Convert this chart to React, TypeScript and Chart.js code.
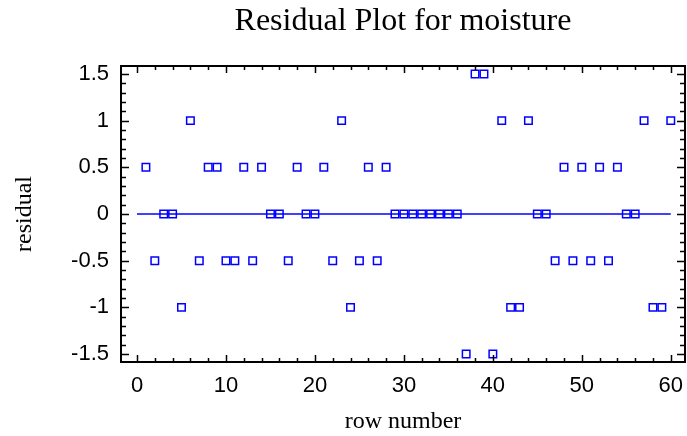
import React, { useEffect, useRef } from "react";
import { Chart, registerables } from "chart.js";

Chart.register(...registerables);

const rowNumbers: number[] = Array.from({ length: 60 }, (_, i) => i + 1);
const residuals: number[] = [
  0.5, -0.5, 0, 0, -1, 1, -0.5, 0.5, 0.5, -0.5,
  -0.5, 0.5, -0.5, 0.5, 0, 0, -0.5, 0.5, 0, 0,
  0.5, -0.5, 1, -1, -0.5, 0.5, -0.5, 0.5, 0, 0,
  0, 0, 0, 0, 0, 0, -1.5, 1.5, 1.5, -1.5,
  1, -1, -1, 1, 0, 0, -0.5, 0.5, -0.5, 0.5,
  -0.5, 0.5, -0.5, 0.5, 0, 0, 1, -1, -1, 1,
];
const zeroLineX: number[] = [0, 60];
const zeroLineY: number[] = [0, 0];
const xTickValues: number[] = [0, 10, 20, 30, 40, 50, 60];
const yTickValues: number[] = [-1.5, -1, -0.5, 0, 0.5, 1, 1.5];
const xMinorStep = 2;
const yMinorStep = 0.1;

const titleText = "Residual Plot for moisture";
const xTitle = "row number";
const yTitle = "residual";

const serif = "'Liberation Serif', 'Times New Roman', serif";
const sans = "'Liberation Sans', Arial, sans-serif";

const framePlugin = {
  id: "frame",
  afterDraw(chart: any) {
    const { ctx, chartArea } = chart;
    const xs = chart.scales.x;
    const ys = chart.scales.y;
    const { left, right, top, bottom } = chartArea;
    ctx.save();
    ctx.strokeStyle = "#000";
    ctx.lineWidth = 2;
    ctx.strokeRect(left, top, right - left, bottom - top);
    ctx.lineWidth = 1.5;
    ctx.beginPath();
    const xStart = Math.ceil(xs.min / xMinorStep) * xMinorStep;
    for (let v = xStart; v <= xs.max + 1e-9; v += xMinorStep) {
      const px = Math.round(xs.getPixelForValue(v)) + 0.5;
      const major = Math.abs(v / 10 - Math.round(v / 10)) < 1e-6;
      const len = major ? 7 : 4;
      ctx.moveTo(px, bottom);
      ctx.lineTo(px, bottom - len);
      ctx.moveTo(px, top);
      ctx.lineTo(px, top + len);
    }
    const yStart = Math.ceil(ys.min / yMinorStep - 1e-6) * yMinorStep;
    for (let i = 0; ; i++) {
      const v = yStart + i * yMinorStep;
      if (v > ys.max + 1e-9) break;
      const py = Math.round(ys.getPixelForValue(v)) + 0.5;
      const major = Math.abs(v / 0.5 - Math.round(v / 0.5)) < 1e-6;
      const len = major ? 8 : 5;
      ctx.moveTo(left, py);
      ctx.lineTo(left + len, py);
      ctx.moveTo(right, py);
      ctx.lineTo(right - len, py);
    }
    ctx.stroke();
    ctx.restore();
  },
};

export default function App() {
  const canvasRef = useRef<HTMLCanvasElement | null>(null);

  useEffect(() => {
    if (!canvasRef.current) return;
    const chart = new Chart(canvasRef.current, {
      type: "scatter",
      data: {
        datasets: [
          {
            type: "line",
            data: zeroLineX.map((x, i) => ({ x, y: zeroLineY[i] })),
            borderColor: "#0000ff",
            borderWidth: 1.5,
            pointRadius: 0,
            fill: false,
          } as any,
          {
            data: rowNumbers.map((x, i) => ({ x, y: residuals[i] })),
            pointStyle: "rect",
            pointRadius: 5.3,
            borderColor: "#0000ff",
            backgroundColor: "rgba(0,0,0,0)",
            borderWidth: 1.5,
          },
        ],
      },
      plugins: [framePlugin],
      options: {
        animation: false,
        responsive: true,
        maintainAspectRatio: false,
        layout: { autoPadding: false, padding: { top: 0, right: 2, left: 0, bottom: 0 } },
        plugins: {
          legend: { display: false },
          tooltip: { enabled: false },
          title: {
            display: true,
            text: titleText,
            fullSize: false,
            color: "#000",
            font: { family: serif, size: 32, weight: "normal", lineHeight: 1.2 },
            padding: { top: 2, bottom: 25.6 },
          },
        },
        scales: {
          x: {
            type: "linear",
            min: -1.8,
            max: 61.6,
            afterBuildTicks: (scale: any) => {
              scale.ticks = xTickValues.map((v) => ({ value: v }));
            },
            afterFit: (scale: any) => {
              scale.height = 74;
              scale.paddingLeft = 0;
              scale.paddingRight = 0;
            },
            grid: { display: false, drawTicks: false },
            border: { display: false },
            ticks: {
              color: "#000",
              padding: 11,
              maxRotation: 0,
              font: { family: sans, size: 22 },
              callback: (v: any) => String(v),
            },
            title: {
              display: true,
              text: xTitle,
              color: "#000",
              font: { family: serif, size: 24 },
              padding: { top: 0, bottom: 0 },
            },
          },
          y: {
            type: "linear",
            min: -1.585,
            max: 1.585,
            afterBuildTicks: (scale: any) => {
              scale.ticks = yTickValues.map((v) => ({ value: v }));
            },
            afterFit: (scale: any) => {
              scale.width = 121;
              scale.paddingTop = 0;
              scale.paddingBottom = 0;
            },
            grid: { display: false, drawTicks: false },
            border: { display: false },
            ticks: {
              color: "#000",
              padding: 12,
              font: { family: sans, size: 22 },
              callback: (v: any) => String(v),
            },
            title: {
              display: true,
              text: yTitle,
              color: "#000",
              font: { family: serif, size: 24 },
              padding: { top: 10, bottom: 0 },
            },
          },
        },
      },
    });
    return () => chart.destroy();
  }, []);

  return (
    <div style={{ position: "fixed", left: 0, top: 0, width: 687, height: 436 }}>
      <canvas ref={canvasRef} />
    </div>
  );
}
